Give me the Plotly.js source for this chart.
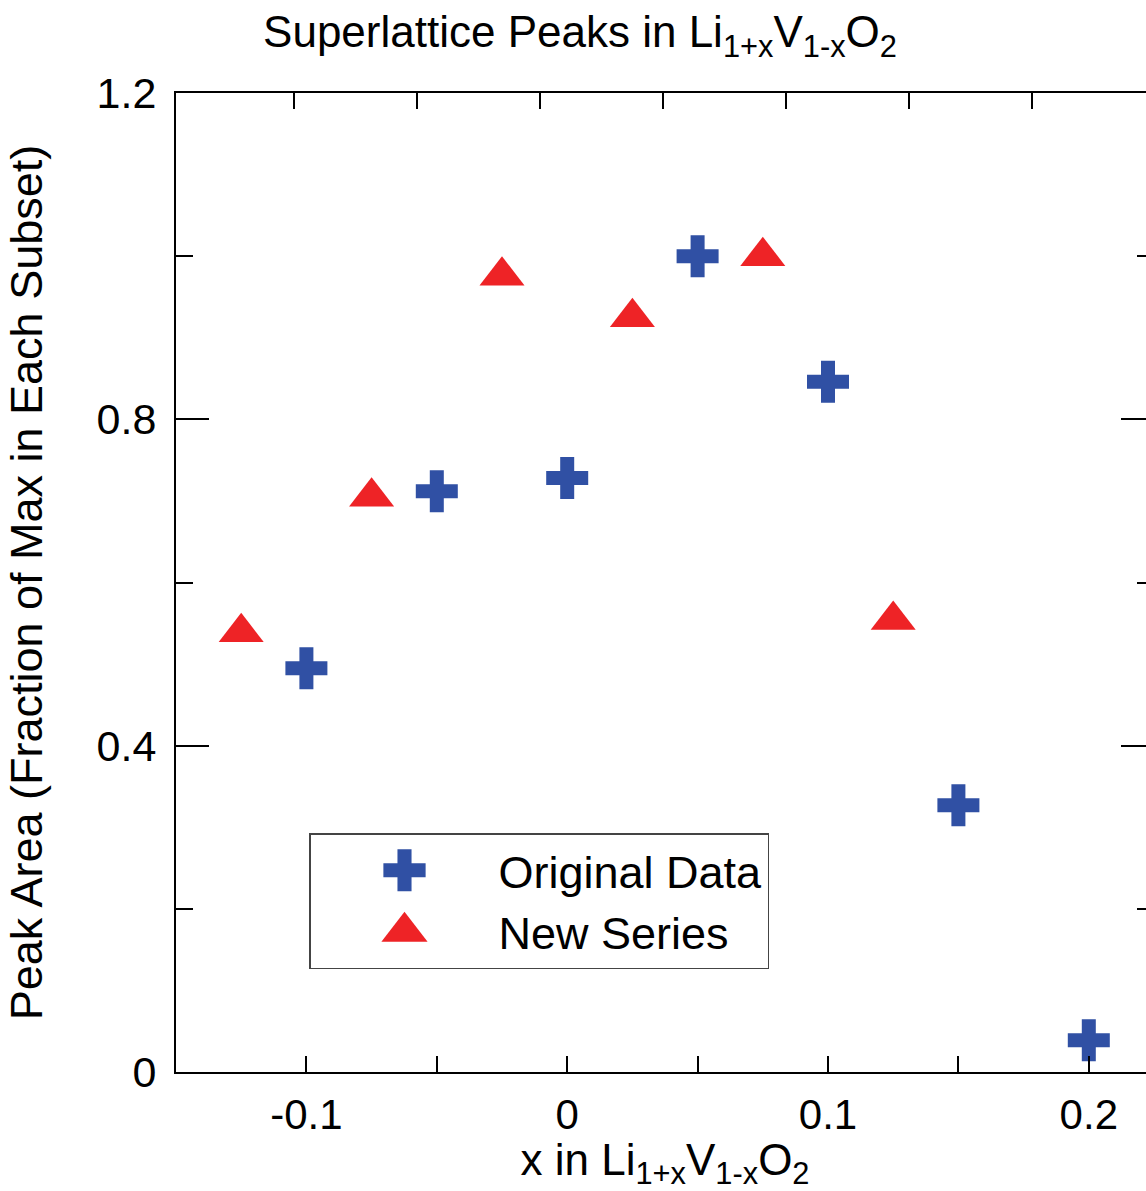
<!DOCTYPE html>
<html>
<head>
<meta charset="utf-8">
<script src="https://cdn.plot.ly/plotly-3.0.1.min.js"></script>
<style>
html, body { margin: 0; padding: 0; overflow: hidden; background: #fff; }
#chart { width: 1160px; height: 1191px; }
</style>
</head>
<body>
<div id="chart"></div>
<script>
// ---- data ----
const originalX = [-0.1, -0.05, 0, 0.05, 0.1, 0.15, 0.2];
const originalY = [0.495, 0.712, 0.728, 1.0, 0.846, 0.327, 0.039];
const newX = [-0.125, -0.075, -0.025, 0.025, 0.075, 0.125];
const newY = [0.539, 0.705, 0.976, 0.925, 1.0, 0.554];
const xTickVals = [-0.1, 0, 0.1, 0.2];
const xTickText = ['-0.1', '0', '0.1', '0.2'];
const yTickVals = [0, 0.4, 0.8, 1.2];
const yTickText = ['0', '0.4', '0.8', '1.2'];
const seriesNames = ['Original Data', 'New Series'];

const FONT = 'Liberation Sans, Arial, Helvetica, sans-serif';
const BLUE = '#3050A4';
const RED = '#EE2326';

const traces = [
  {
    x: originalX, y: originalY, type: 'scatter', mode: 'markers', name: seriesNames[0],
    marker: { symbol: 'cross', size: 35, color: BLUE, line: { width: 0 } },
    cliponaxis: false
  },
  {
    x: newX, y: newY, type: 'scatter', mode: 'markers', name: seriesNames[1],
    marker: { symbol: 'triangle-up', size: 39, color: RED, line: { width: 0 } },
    cliponaxis: false
  },
  { x: [], y: [], xaxis: 'x2', yaxis: 'y', showlegend: false, hoverinfo: 'skip', type: 'scatter', mode: 'markers' }
];

const layout = {
  width: 1160, height: 1191,
  margin: { l: 176, r: 6, t: 93, b: 119, pad: 0 },
  paper_bgcolor: '#fff', plot_bgcolor: '#fff',
  font: { family: FONT, color: '#000' },
  showlegend: true,
  title: {
    text: 'Superlattice Peaks in Li<sub>1+x</sub>V<sub>1-x</sub>O<sub>2</sub>',
    font: { family: 'Liberation Sans Narrow, Arial Narrow, ' + FONT, size: 44, color: '#000' },
    x: 0.5, xref: 'container', xanchor: 'center',
    y: 1 - 32 / 1191, yref: 'container', yanchor: 'middle'
  },
  xaxis: {
    range: [-0.15, 0.225], tickmode: 'array', tickvals: xTickVals, ticktext: xTickText,
    ticks: 'inside', ticklen: 16, tickwidth: 2, tickcolor: '#000',
    showline: true, linewidth: 2, linecolor: '#000', mirror: true,
    showgrid: false, zeroline: false,
    tickfont: { family: FONT, size: 42, color: '#000' },
    ticklabelstandoff: 5,
    minor: { tickmode: 'linear', tick0: 0, dtick: 0.05, ticks: 'inside', ticklen: 16, tickwidth: 2, tickcolor: '#000', showgrid: false },
    title: { text: 'x in Li<sub>1+x</sub>V<sub>1-x</sub>O<sub>2</sub>', font: { family: FONT, size: 44, color: '#000' }, standoff: 17 }
  },
  xaxis2: {
    overlaying: 'x', anchor: 'y', side: 'top', range: [0, 1],
    tickmode: 'linear', tick0: 0.1211, dtick: 0.1257,
    ticks: 'inside', ticklen: 16, tickwidth: 2, tickcolor: '#000',
    showticklabels: false, showline: false, showgrid: false, zeroline: false
  },
  yaxis: {
    range: [0, 1.2], tickmode: 'array', tickvals: yTickVals, ticktext: yTickText,
    ticks: 'inside', ticklen: 33, tickwidth: 2, tickcolor: '#000',
    showline: true, linewidth: 2, linecolor: '#000', mirror: 'ticks',
    showgrid: false, zeroline: false,
    tickfont: { family: FONT, size: 43, color: '#000' },
    ticklabelstandoff: 9,
    minor: { tickmode: 'linear', tick0: 0, dtick: 0.2, ticks: 'inside', ticklen: 17, tickwidth: 2, tickcolor: '#000', showgrid: false },
    title: { text: 'Peak Area (Fraction of Max in Each Subset)', font: { family: FONT, size: 45, color: '#000' }, standoff: 40 }
  },
  legend: {
    x: (309 - 176) / 978, y: (1072 - 833) / 979, xanchor: 'left', yanchor: 'top',
    bgcolor: '#fff', bordercolor: '#444', borderwidth: 1.5,
    font: { family: FONT, size: 45, color: '#000' },
    itemwidth: 178, tracegroupgap: 0
  }
};

Plotly.newPlot('chart', traces, layout, { staticPlot: true, displayModeBar: false }).then(function (gd) {
  // enlarge legend symbols to match the plotted marker sizes
  const items = gd.querySelectorAll('.legend .traces');
  items.forEach(function (item, i) {
    const s = i === 0 ? 2.2 : 2.5;
    item.querySelectorAll('.legendpoints path.scatterpts').forEach(function (p) {
      const t = p.getAttribute('transform') || '';
      p.setAttribute('transform', t + ' scale(' + s + ')');
    });
  });
});
</script>
</body>
</html>
